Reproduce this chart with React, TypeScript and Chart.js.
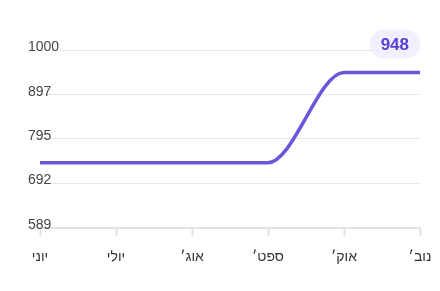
import React, { useEffect, useRef } from "react";
import { Chart, registerables } from "chart.js";

Chart.register(...registerables);

const months = ["יוני", "יולי", "אוג׳", "ספט׳", "אוק׳", "נוב׳"];
const values = [740, 740, 740, 740, 948, 948];
const yTicks = [589, 692, 795, 897, 1000];
const badgeValue = 948;

const LINE = "#6b55d9";
const FONT = "Arial, 'Liberation Sans', sans-serif";

const badgePlugin = {
  id: "badge",
  afterDraw(chart: any) {
    const { ctx, chartArea } = chart;
    const text = String(badgeValue);
    ctx.save();
    ctx.font = `bold 17px ${FONT}`;
    const w = ctx.measureText(text).width + 22;
    const h = 29;
    const right = chartArea.right;
    const cy = chartArea.top - 6;
    const x = right - w;
    const y = cy - h / 2;
    ctx.fillStyle = "#f2eefd";
    ctx.beginPath();
    ctx.roundRect(x, y, w, h, h / 2);
    ctx.fill();
    ctx.fillStyle = "#5a3fd6";
    ctx.textAlign = "center";
    ctx.textBaseline = "middle";
    ctx.fillText(text, x + w / 2, cy + 1);
    ctx.restore();
  },
};

export default function App() {
  const ref = useRef<HTMLCanvasElement>(null);
  useEffect(() => {
    document.body.style.margin = "0";
    const chart = new Chart(ref.current!, {
      type: "line",
      data: {
        labels: months,
        datasets: [
          {
            data: values,
            borderColor: LINE,
            borderWidth: 3.5,
            pointRadius: 0,
            cubicInterpolationMode: "monotone",
            fill: false,
          },
        ],
      },
      options: {
        animation: false,
        responsive: true,
        maintainAspectRatio: false,
        layout: { padding: { left: 40, right: 20, top: 50, bottom: 12 } },
        plugins: { legend: { display: false }, tooltip: { enabled: false } },
        scales: {
          x: {
            offset: false,
            afterFit: (axis: any) => {
              axis.paddingLeft = 0;
              axis.paddingRight = 0;
            },
            grid: {
              drawOnChartArea: false,
              drawTicks: true,
              tickLength: 8,
              tickWidth: 2,
              tickColor: "#e3e3e3",
            },
            border: { display: true, color: "#e3e3e3", width: 2 },
            ticks: {
              color: "#333",
              font: { family: FONT, size: 14 },
              padding: 13,
              maxRotation: 0,
              autoSkip: false,
            },
          },
          y: {
            min: 589,
            max: 1000,
            afterBuildTicks: (axis: any) => {
              axis.ticks = yTicks.map((v) => ({ value: v }));
            },
            afterFit: (axis: any) => {
              axis.width = 0;
            },
            grid: { color: "#e6e6e6", lineWidth: 1, drawTicks: false },
            border: { display: false },
            ticks: {
              mirror: true,
              padding: -12,
              labelOffset: -3,
              color: "#444",
              font: { family: FONT, size: 14 },
              callback: (v: any) => String(v),
            },
          },
        },
      },
      plugins: [badgePlugin],
    });
    return () => chart.destroy();
  }, []);
  return (
    <div style={{ width: 440, height: 291, position: "relative" }}>
      <canvas ref={ref} />
    </div>
  );
}
